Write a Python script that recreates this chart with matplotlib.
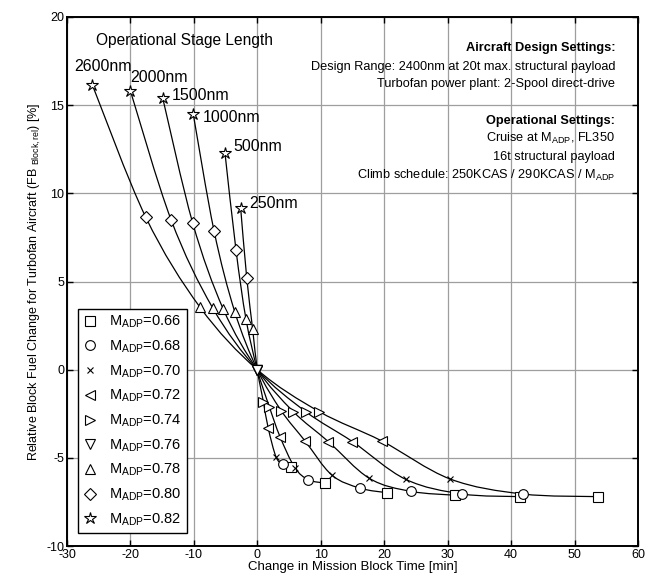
import numpy as np
import matplotlib
matplotlib.use('Agg')
from matplotlib import pyplot as plt
from matplotlib.path import Path
from matplotlib.patches import PathPatch

plt.rcParams['font.family'] = ['Liberation Sans', 'DejaVu Sans']
plt.rcParams['mathtext.fontset'] = 'custom'
plt.rcParams['mathtext.rm'] = 'Liberation Sans'
plt.rcParams['mathtext.it'] = 'Liberation Sans'
plt.rcParams['axes.unicode_minus'] = False

# design Mach numbers and their markers
mach = [0.66, 0.68, 0.70, 0.72, 0.74, 0.76, 0.78, 0.80, 0.82]
markers = ['s', 'o', 'x', '<', '>', 'v', '^', 'D', '*']

stage_labels = ['2600nm', '2000nm', '1500nm', '1000nm', '500nm', '250nm']

# change in block time [min], one list per stage length, ordered by mach
dt_2600 = [53.7, 41.8, 30.4, 19.6, 9.77, 0.0, -9.03, -17.6, -26.0]
dt_2000 = [41.4, 32.3, 23.4, 15.0, 7.63, 0.0, -7.03, -13.6, -20.0]
dt_1500 = [31.2, 24.2, 17.65, 11.2, 5.68, 0.0, -5.36, -10.2, -14.9]
dt_1000 = [20.5, 16.2, 11.73, 7.52, 3.78, 0.0, -3.56, -6.83, -10.1]
dt_500 = [10.6, 8.04, 5.9, 3.58, 1.89, 0.0, -1.78, -3.36, -5.09]
dt_250 = [5.26, 4.0, 2.95, 1.73, 0.95, 0.0, -0.73, -1.67, -2.62]

# relative block fuel change [%]
fb_2600 = [-7.2, -7.05, -6.2, -4.04, -2.38, 0.0, 3.54, 8.66, 16.15]
fb_2000 = [-7.2, -7.05, -6.22, -4.08, -2.38, 0.0, 3.50, 8.51, 15.81]
fb_1500 = [-7.12, -6.9, -6.16, -4.08, -2.38, 0.0, 3.43, 8.34, 15.39]
fb_1000 = [-6.98, -6.72, -5.97, -4.04, -2.33, 0.0, 3.29, 7.89, 14.5]
fb_500 = [-6.43, -6.24, -5.55, -3.80, -2.10, 0.0, 2.86, 6.79, 12.27]
fb_250 = [-5.53, -5.34, -4.95, -3.33, -1.81, 0.0, 2.29, 5.22, 9.15]

dt_all = [dt_2600, dt_2000, dt_1500, dt_1000, dt_500, dt_250]
fb_all = [fb_2600, fb_2000, fb_1500, fb_1000, fb_500, fb_250]

# label positions for the stage lengths (left edge, vertical centre)
label_x = [-28.8, -20.0, -13.5, -8.6, -3.8, -1.3]
label_y = [17.2, 16.57, 15.52, 14.3, 12.63, 9.44]


def smooth_path(x, y):
    # Catmull-Rom through the points, drawn as cubic bezier segments
    p = np.column_stack([x, y]).astype(float)
    verts = [p[0]]
    codes = [Path.MOVETO]
    n = len(p)
    for i in range(n - 1):
        p0 = p[i - 1] if i > 0 else p[i]
        p3 = p[i + 2] if i + 2 < n else p[i + 1]
        c1 = p[i] + (p[i + 1] - p0) / 6.0
        c2 = p[i + 1] - (p3 - p[i]) / 6.0
        verts += [c1, c2, p[i + 1]]
        codes += [Path.CURVE4] * 3
    return Path(verts, codes)


fig = plt.figure(figsize=(6.54, 5.80), dpi=100)
fig.patch.set_facecolor('white')
ax = fig.add_axes([0.1024, 0.0586, 0.8731, 0.9121])

ax.set_xlim(-30, 60)
ax.set_ylim(-10, 20)
ax.set_xticks(np.arange(-30, 61, 10))
ax.set_yticks(np.arange(-10, 21, 5))
ax.grid(color='0.62', linestyle='-', linewidth=0.9)
ax.set_axisbelow(True)
ax.tick_params(direction='in', top=True, right=True, length=4, width=1,
               labelsize=9, colors='black', pad=2)
for s in ax.spines.values():
    s.set_linewidth(1.4)

# curves for each stage length
for dts, fbs in zip(dt_all, fb_all):
    ax.add_patch(PathPatch(smooth_path(dts, fbs), facecolor='none',
                           edgecolor='black', linewidth=0.9, zorder=3))

# markers per design Mach number
for j, (m, mk) in enumerate(zip(mach, markers)):
    xs = [d[j] for d in dt_all]
    ys = [f[j] for f in fb_all]
    ms = {'*': 9, 'D': 6, 'x': 5}.get(mk, 7)
    ax.plot(xs, ys, linestyle='none', marker=mk, markersize=ms,
            markerfacecolor='white' if mk != 'x' else 'black',
            markeredgecolor='black', markeredgewidth=0.8, zorder=4,
            label='M$_{\\mathrm{ADP}}$=%.2f' % m)

for lab, lx, ly in zip(stage_labels, label_x, label_y):
    ax.text(lx, ly, lab, fontsize=11.5, ha='left', va='center', zorder=5)

ax.text(-11.4, 18.67, 'Operational Stage Length', fontsize=11.2,
        ha='center', va='center')

# settings text block
rx = 56.4
fs = 9.2
ax.text(rx, 18.26, 'Aircraft Design Settings:', fontsize=fs, fontweight='bold',
        ha='right', va='center')
ax.text(rx, 17.19, 'Design Range: 2400nm at 20t max. structural payload',
        fontsize=fs, ha='right', va='center')
ax.text(rx, 16.19, 'Turbofan power plant: 2-Spool direct-drive',
        fontsize=fs, ha='right', va='center')
ax.text(rx, 14.12, 'Operational Settings:', fontsize=fs, fontweight='bold',
        ha='right', va='center')
ax.text(rx, 13.12, 'Cruise at M$_{\\mathrm{ADP}}$, FL350',
        fontsize=fs, ha='right', va='center')
ax.text(rx, 12.08, '16t structural payload', fontsize=fs, ha='right', va='center')
ax.text(rx, 11.04, 'Climb schedule: 250KCAS / 290KCAS / M$_{\\mathrm{ADP}}$',
        fontsize=fs, ha='right', va='center')

ax.set_xlabel('Change in Mission Block Time [min]', fontsize=9.5, labelpad=0)
ax.set_ylabel('Relative Block Fuel Change for Turbofan Aircraft '
              '(FB $_{\\mathrm{Block,rel}}$) [%]', fontsize=9, labelpad=2)

leg = ax.legend(loc='lower left', bbox_to_anchor=(0.019, 0.0246),
                borderaxespad=0, fontsize=10.5, frameon=True, fancybox=False,
                edgecolor='black', framealpha=1, handlelength=1.0,
                handletextpad=0.8, labelspacing=0.57, borderpad=0.35)
leg.get_frame().set_linewidth(1.0)
leg.set_zorder(6)

fig.savefig('out.png', dpi=100, facecolor='white')
